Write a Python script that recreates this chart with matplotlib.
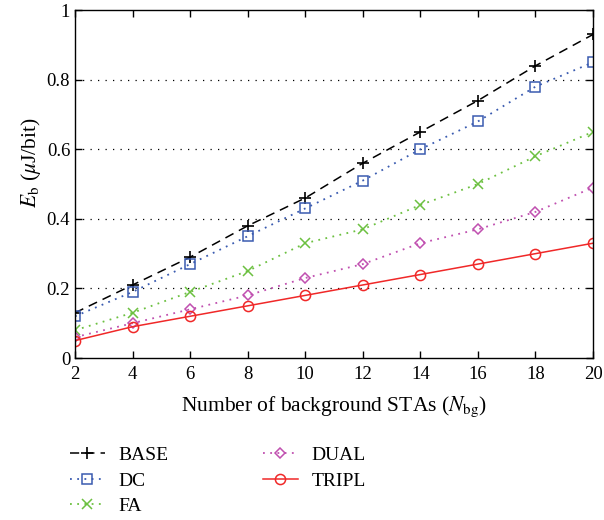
import matplotlib
matplotlib.use("Agg")
import matplotlib.pyplot as plt

plt.rcParams['font.family'] = ['Liberation Serif', 'DejaVu Serif']
plt.rcParams['mathtext.fontset'] = 'stix'

x = [2, 4, 6, 8, 10, 12, 14, 16, 18, 20]
base = [0.13, 0.21, 0.29, 0.38, 0.46, 0.56, 0.65, 0.74, 0.84, 0.93]
dc = [0.12, 0.19, 0.27, 0.35, 0.43, 0.51, 0.60, 0.68, 0.78, 0.85]
fa = [0.08, 0.13, 0.19, 0.25, 0.33, 0.37, 0.44, 0.50, 0.58, 0.65]
dual = [0.06, 0.10, 0.14, 0.18, 0.23, 0.27, 0.33, 0.37, 0.42, 0.49]
tripl = [0.05, 0.09, 0.12, 0.15, 0.18, 0.21, 0.24, 0.27, 0.30, 0.33]
xticks = [2, 4, 6, 8, 10, 12, 14, 16, 18, 20]
yticks = [0, 0.2, 0.4, 0.6, 0.8, 1]
ytick_labels = ['0', '0.2', '0.4', '0.6', '0.8', '1']

fig = plt.figure(figsize=(6.04, 5.2), dpi=100)
ax = fig.add_axes([0.1242, 0.3115, 0.8576, 0.669])

ax.plot(x, base, color='black', linestyle=(0, (6, 4)), lw=1.1, marker='+', ms=9, mew=1.2, label='BASE')
ax.plot(x, dc, color='#3a5bb0', linestyle=(0, (1, 3)), lw=1.3, marker='s', ms=6.7, mew=1.1, fillstyle='none', label='DC')
ax.plot(x, fa, color='#6cc040', linestyle=(0, (1, 3)), lw=1.3, marker='x', ms=7, mew=1.1, label='FA')
ax.plot(x, dual, color='#c050b0', linestyle=(0, (1, 3)), lw=1.3, marker='D', ms=5.5, mew=1.1, fillstyle='none', label='DUAL')
ax.plot(x, tripl, color='#f02828', linestyle='-', lw=1.1, marker='o', ms=7.3, mew=1.1, fillstyle='none', label='TRIPL')

ax.set_xlim(2, 20)
ax.set_ylim(0, 1)
ax.set_xticks(xticks)
ax.set_yticks(yticks)
ax.set_yticklabels(ytick_labels)
for yv in [0.2, 0.4, 0.6, 0.8]:
    ax.axhline(yv, color='black', linestyle=(0, (1, 5)), lw=0.9, zorder=0)

ax.tick_params(direction='in', top=True, right=True, length=5, labelsize=13.5, width=1)
ax.tick_params(axis='x', pad=6)
for s in ax.spines.values():
    s.set_linewidth(1.0)

ax.set_xlabel(r'Number of background STAs ($N_{\mathrm{bg}}$)', fontsize=15.5, labelpad=8)
ax.set_ylabel(r'$E_{\mathrm{b}}$ ($\mu$J/bit)', fontsize=15.5)
ax.yaxis.set_label_coords(-0.062, 0.563)

leg = fig.legend(loc='upper left', bbox_to_anchor=(0.1026, 0.157), ncol=2, frameon=False,
                 fontsize=14, handlelength=1.8, columnspacing=4.85, labelspacing=0.42,
                 handletextpad=0.7, borderaxespad=0)

fig.savefig('out.png', dpi=100)
